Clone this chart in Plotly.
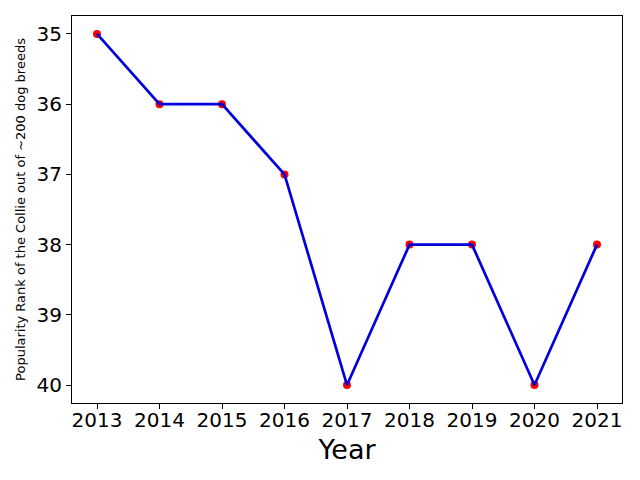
import plotly.graph_objects as go

years = [2013, 2014, 2015, 2016, 2017, 2018, 2019, 2020, 2021]
ranks = [35, 36, 36, 37, 40, 38, 38, 40, 38]

fig = go.Figure()

# red dots underneath, blue line drawn over them
fig.add_trace(go.Scatter(x=years, y=ranks, mode='markers',
                         marker=dict(color='red', size=8), showlegend=False))
fig.add_trace(go.Scatter(x=years, y=ranks, mode='lines',
                         line=dict(color='#0000dd', width=2.7), showlegend=False))

fig.update_layout(
    width=640, height=480,
    margin=dict(l=64, r=26, t=8, b=85),
    plot_bgcolor='white', paper_bgcolor='white',
    font=dict(family='DejaVu Sans', color='black'),
)
fig.update_xaxes(
    range=[2012.6, 2021.4], tickvals=years, ticktext=[str(y) for y in years],
    tickfont=dict(size=20), ticks='outside', ticklen=5, tickcolor='black',
    ticklabelstandoff=-6,
    showgrid=False, zeroline=False, showline=True, linecolor='black', mirror=True,
    title=dict(text='Year', font=dict(size=27), standoff=9),
)
fig.update_yaxes(
    range=[40.256, 34.744], tickvals=[35, 36, 37, 38, 39, 40],
    tickfont=dict(size=20), ticks='outside', ticklen=5, tickcolor='black',
    showgrid=False, zeroline=False, showline=True, linecolor='black', mirror=True,
    title=dict(text='Popularity Rank of the Collie out of ~200 dog breeds', font=dict(size=13), standoff=7),
)

fig.write_html("out.html")
